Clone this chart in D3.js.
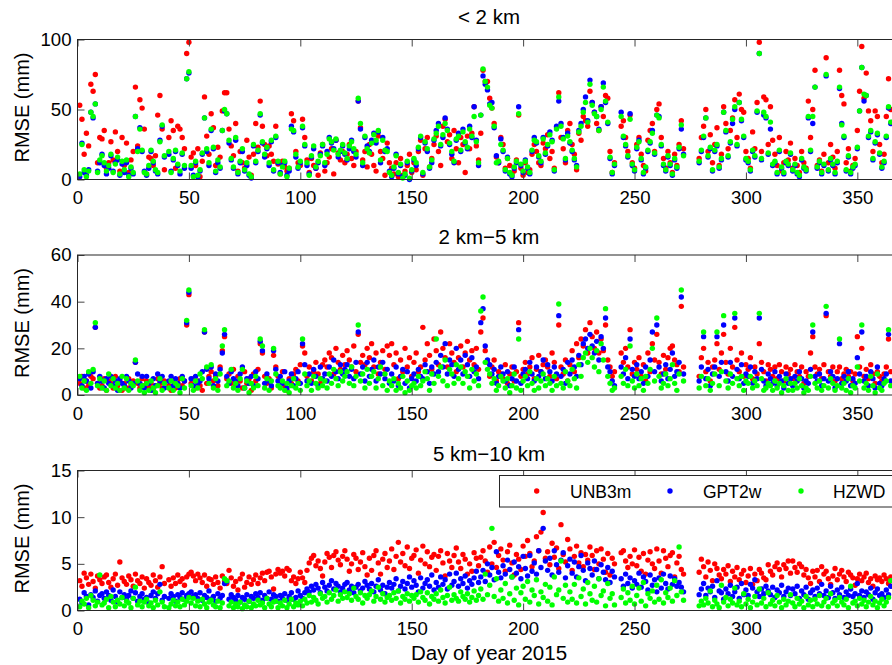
<!DOCTYPE html>
<html>
<head>
<meta charset="utf-8">
<script src="https://cdn.jsdelivr.net/npm/d3@7"></script>
<style>
  body { margin: 0; background: #fff; }
  svg { display: block; font-family: "Liberation Sans", Arial, Helvetica, sans-serif; }
</style>
</head>
<body>
<svg id="chart" width="892" height="665"></svg>
<script>
var xTicks = [0, 50, 100, 150, 200, 250, 300, 350];
var seriesNames = ["UNB3m", "GPT2w", "HZWD"];
var seriesColors = ["#ff0000", "#0000ff", "#00ff00"];
var panelTitles = ["< 2 km", "2 km\u22125 km", "5 km\u221210 km"];
var yMax = [100, 60, 15];
var yTicksNear = [0, 50, 100];
var yTicksMid = [0, 20, 40, 60];
var yTicksFar = [0, 5, 10, 15];
var days = d3.range(1, 366); // day of year 2015

// < 2 km
var unb3mNear = [
  53, 43, 18, 33, 24, 68, 63, 75, 12, 30,
  29, 35, 8, 12, 27, 14, 34, 20, 6, 30,
  10, 26, 5, 14, 20, 66, 24, 57, 51, 36,
  4, 16, 15, 10, 17, 46, 60, 36, 7, null,
  30, 42, 35, 8, 38, 36, 30, 22, 90, 98,
  16, 19, 10, 22, 2, 13, 59, 31, 18, 47,
  37, 10, 23, 16, 49, 62, 62, 36, 24, 17,
  40, 6, 20, 12, 8, 28, 16, 3, 18, 40,
  23, 56, 38, 25, 17, 24, 18, 13, 38, 11,
  4, 13, 9, 6, 8, 47, 42, 20, 12, 10,
  43, 30, 14, 5, 15, 10, 8, 3, 19, 25,
  6, 12, 16, 22, 4, 28, 19, 14, 20, 12,
  18, 25, 15, 10, 20, 56, 37, 14, 20, 9,
  25, 18, 10, 6, 31, 20, 15, 3, 26, 12,
  8, 4, 12, 2, 15, 3, 6, 10, 18, 5,
  12, 7, 20, 28, 3, 22, 30, 9, 15, 25,
  31, 20, 10, 38, 43, 27, 32, 15, 35, 22,
  12, 30, 25, 5, 31, 22, 33, 52, 24, 14,
  33, 78, 70, 70, 58, 51, 40, 16, 12, 30,
  25, 8, 15, 10, 4, 6, 14, 46, 8, 3,
  12, 5, 7, 18, 25, 20, 12, 10, 26, 22,
  32, 15, 20, 8, 37, 62, 30, 22, 12, 35,
  40, 25, 18, 7, 33, 28, 45, 42, 38, 63,
  55, 48, 40, 35, 52, 45, 60, 58, 20, 5,
  12, null, null, 38, 42, 30, 20, 46, 12, 8,
  25, 30, 18, 10, 6, 28, 35, 40, 20, 50,
  54, 30, 15, 8, 20, 12, 5, 18, 10, 25,
  42, 22, null, null, null, null, null, null, 15, 30,
  38, 50, 20, 32, 12, 25, 37, 10, 18, 52,
  40, 22, 35, 44, 57, 30, 61, 50, 48, 20,
  15, 8, 34, 22, 55, 98, 20, 59, 57, 25,
  52, 28, 18, 10, 30, 6, 12, 20, 14, 26,
  8, 15, 10, 5, 20, 12, 8, 56, 30, 50,
  78, 10, 14, 6, 18, 87, 12, 25, 16, 8,
  20, 78, 60, 54, 12, 22, 6, 10, 15, 35,
  63, 95, 58, 76, 49, 42, 20, 49, 45, 25,
  12, 18, 45, 72, 50
];
var gpt2wNear = [
  2, 26, 5, 3, 7, 48, 44, 54, 6, 12,
  18, 10, 4, 8, 17, 6, 12, 14, 3, 11,
  5, 12, 3, 8, 4, 45, 22, 37, 20, 6,
  3, 8, 20, 12, 6, 4, 28, 38, 16, null,
  18, 6, 14, 20, 10, 4, 18, 8, 72, 76,
  8, 3, 12, 2, 6, 18, 44, 20, 10, 35,
  22, 5, 12, 8, 35, 49, 47, 26, 14, 8,
  28, 4, 12, 20, 6, 10, 3, 1, 24, 12,
  20, 46, 26, 16, 22, 10, 27, 6, 30, 12,
  5, 10, 12, 3, 6, 38, 34, 16, 8, 12,
  37, 24, 10, 4, 16, 22, 8, 12, 18, 24,
  10, 20, 30, 26, 22, 28, 16, 20, 24, 18,
  14, 22, 28, 20, 16, 56, 36, 10, 30, 24,
  20, 28, 33, 26, 34, 12, 30, 20, 22, 6,
  2, 8, 18, 4, 10, 2, 3, 12, 0, 6,
  14, 10, 22, 30, 4, 26, 20, 8, 12, 28,
  35, 40, 24, 30, 44, 36, 25, 18, 12, 28,
  33, 20, 36, 26, 22, 38, 30, 52, 28, 10,
  46, 74, 68, 64, 54, 55, 37, 17, 12, 29,
  20, 6, 16, 4, 2, 8, 12, 52, 10, 5,
  14, 8, 4, 20, 30, 26, 16, 12, 30, 18,
  24, 34, 28, 6, 38, 56, 40, 30, 14, 33,
  26, 20, 14, 10, 35, 40, 50, 59, 42, 71,
  55, 48, 45, 36, 52, 69, 55, 40, 15, 4,
  10, null, null, 48, 30, 24, 16, 47, 10, 6,
  22, 28, 14, 4, 8, 20, 26, 35, 18, 46,
  45, 24, 10, 6, 16, 10, 3, 14, 8, 22,
  36, 18, null, null, null, null, null, null, 12, 20,
  30, 44, 16, 22, 6, 20, 24, 8, 14, 48,
  34, 16, 26, 40, 50, 24, 55, 42, 30, 14,
  12, 6, 20, 16, 48, 90, 14, 46, 44, 18,
  36, 10, 12, 4, 20, 8, 4, 12, 10, 18,
  6, 10, 4, 2, 14, 8, 6, 44, 20, 40,
  66, 8, 12, 4, 10, 74, 6, 14, 10, 4,
  12, 65, 40, 30, 6, 16, 4, 8, 10, 22,
  49, 80, 56, 60, 30, 34, 14, 26, 32, 18,
  8, 12, 30, 51, 40
];
var hzwdNear = [
  4, 25, 7, 2, 6, 48, 45, 54, 5, 14,
  17, 12, 6, 10, 18, 5, 11, 16, 4, 13,
  7, 14, 2, 9, 5, 45, 20, 36, 21, 5,
  4, 10, 21, 13, 7, 5, 27, 39, 17, null,
  20, 5, 15, 21, 11, 6, 19, 10, 72, 77,
  10, 2, 13, 3, 7, 19, 44, 22, 12, 36,
  23, 6, 14, 9, 35, 50, 47, 28, 15, 9,
  30, 5, 13, 22, 7, 12, 4, 2, 25, 13,
  21, 47, 27, 18, 23, 12, 28, 7, 31, 13,
  4, 9, 13, 2, 8, 36, 35, 18, 9, 13,
  38, 25, 12, 3, 17, 24, 9, 13, 17, 25,
  12, 18, 29, 27, 21, 29, 18, 21, 25, 19,
  15, 24, 27, 22, 18, 58, 40, 12, 31, 22,
  19, 26, 32, 28, 35, 14, 28, 21, 20, 5,
  3, 9, 17, 5, 11, 1, 4, 13, 1, 7,
  15, 12, 23, 31, 5, 27, 22, 9, 14, 29,
  33, 38, 25, 32, 40, 35, 26, 20, 13, 29,
  31, 21, 34, 27, 23, 36, 31, 45, 27, 12,
  46, 79, 70, 66, 53, 51, 38, 12, 13, 25,
  21, 7, 15, 5, 3, 9, 13, 47, 11, 6,
  13, 9, 5, 21, 28, 27, 17, 13, 29, 19,
  25, 32, 27, 7, 36, 59, 38, 29, 15, 31,
  27, 21, 15, 9, 34, 38, 48, 55, 41, 68,
  53, 47, 45, 35, 50, 66, 56, 41, 16, 5,
  11, null, null, 45, 31, 25, 17, 43, 11, 7,
  23, 27, 15, 5, 9, 21, 27, 33, 19, 46,
  44, 25, 11, 7, 17, 11, 4, 15, 9, 23,
  39, 17, null, null, null, null, null, null, 13, 21,
  31, 44, 17, 23, 7, 21, 25, 9, 15, 48,
  35, 17, 27, 43, 52, 25, 55, 43, 31, 15,
  13, 7, 21, 17, 49, 90, 15, 48, 45, 19,
  41, 11, 13, 5, 21, 9, 5, 13, 11, 19,
  7, 11, 5, 3, 15, 9, 7, 45, 21, 45,
  66, 9, 13, 5, 11, 75, 7, 15, 11, 5,
  13, 66, 39, 31, 7, 17, 5, 9, 11, 23,
  49, 80, 61, 60, 31, 35, 15, 27, 33, 19,
  9, 13, 31, 52, 41
];

// 2 km - 5 km
var unb3mMid = [
  5, 8, 3, 6, 4, 8, 7, 29, 5, 3,
  4, 7, 2, 6, 5, 3, 8, 4, 6, 2,
  5, 3, 7, 4, 6, 14, 5, 3, 7, 4,
  6, 3, 5, 2, 4, 7, 5, 3, 6, null,
  4, 2, 6, 3, 5, 7, 4, 6, 30, 43,
  5, 7, 3, 6, 4, 2, 27, 5, 8, 10,
  6, 8, 4, 12, 19, 25, 7, 9, 5, 11,
  4, 8, 6, 3, 10, 5, 7, 2, 9, 6,
  11, 22, 18, 8, 5, 7, 3, 17, 12, 8,
  6, 10, 4, 2, 7, 5, 9, 11, 6, 13,
  21, 18, 8, 12, 6, 10, 14, 9, 5, 13,
  15, 12, 18, 16, 9, 20, 14, 11, 17, 13,
  19, 15, 12, 21, 10, 26, 14, 17, 13, 20,
  16, 22, 12, 18, 9, 14, 19, 11, 21, 17,
  22, 13, 18, 7, 15, 10, 20, 12, 16, 8,
  14, 18, 10, 12, 29, 15, 22, 17, 11, 24,
  19, 13, 27, 20, 16, 12, 22, 18, 14, 10,
  16, 21, 12, 18, 23, 15, 19, 13, 20, 11,
  27, 33, 19, 14, 8, 12, 15, 6, 10, 9,
  7, 13, 5, 9, 12, 6, 10, 31, 8, 11,
  14, 9, 12, 16, 7, 11, 17, 10, 13, 15,
  12, 8, 18, 14, 7, 30, 12, 9, 15, 6,
  13, 19, 10, 22, 16, 24, 21, 28, 18, 31,
  25, 20, 27, 18, 24, 19, 30, 15, 12, 8,
  10, null, null, 18, 14, 20, 12, 28, 9, 14,
  11, 16, 8, 13, 6, 18, 10, 22, 15, 26,
  14, 9, 17, 11, 16, 20, 21, 15, 13, 10,
  38, 12, null, null, null, null, null, null, 8, 16,
  20, 10, 14, 6, 12, 15, 22, 11, 18, 26,
  14, 9, 20, 12, 29, 15, 10, 18, 8, 13,
  11, 16, 7, 12, 9, 22, 14, 10, 6, 13,
  11, 8, 12, 7, 13, 10, 6, 12, 9, 11,
  7, 13, 10, 8, 12, 5, 10, 8, 18, 25,
  12, 9, 11, 7, 13, 34, 10, 8, 12, 6,
  10, 12, 7, 9, 11, 8, 10, 6, 9, 25,
  12, 20, 8, 11, 7, 13, 9, 5, 10, 8,
  6, 9, 12, 24, 10
];
var gpt2wMid = [
  7, 4, 8, 6, 9, 3, 10, 29, 5, 8,
  6, 3, 7, 5, 8, 4, 6, 2, 7, 5,
  4, 8, 6, 3, 5, 14, 9, 5, 8, 3,
  8, 5, 2, 7, 4, 9, 6, 8, 3, null,
  6, 8, 4, 7, 5, 3, 8, 6, 31, 44,
  7, 4, 8, 5, 6, 10, 27, 11, 7, 12,
  4, 9, 6, 11, 18, 26, 8, 5, 10, 7,
  6, 4, 9, 12, 3, 7, 5, 8, 4, 10,
  7, 23, 19, 5, 9, 6, 4, 19, 11, 6,
  8, 5, 10, 3, 6, 9, 4, 7, 10, 5,
  22, 13, 6, 9, 5, 11, 8, 4, 12, 7,
  9, 6, 12, 8, 15, 10, 7, 13, 9, 11,
  13, 8, 11, 7, 14, 27, 9, 12, 6, 14,
  8, 11, 15, 6, 12, 9, 14, 7, 11, 5,
  9, 6, 12, 4, 8, 11, 5, 10, 3, 7,
  9, 6, 11, 8, 7, 13, 10, 5, 12, 9,
  14, 10, 17, 12, 22, 9, 15, 13, 8, 20,
  11, 15, 9, 17, 13, 8, 16, 10, 12, 7,
  31, 37, 21, 15, 13, 9, 11, 5, 8, 12,
  9, 6, 10, 4, 7, 12, 6, 28, 5, 9,
  11, 7, 14, 9, 6, 12, 8, 10, 15, 7,
  13, 10, 6, 12, 9, 34, 8, 11, 5, 14,
  9, 15, 12, 8, 17, 13, 22, 24, 20, 26,
  21, 18, 23, 15, 25, 20, 33, 12, 10, 6,
  4, null, null, 12, 9, 16, 7, 24, 11, 8,
  13, 7, 10, 5, 12, 8, 15, 27, 10, 30,
  12, 6, 9, 13, 7, 11, 18, 8, 10, 14,
  42, 9, null, null, null, null, null, null, 6, 12,
  25, 7, 11, 4, 9, 12, 25, 8, 14, 30,
  10, 6, 14, 8, 33, 11, 7, 13, 5, 9,
  8, 12, 5, 10, 7, 33, 11, 6, 4, 9,
  7, 5, 10, 4, 8, 6, 3, 9, 5, 7,
  4, 8, 6, 10, 7, 3, 6, 5, 11, 27,
  8, 6, 9, 4, 7, 35, 6, 10, 8, 3,
  7, 22, 5, 8, 6, 10, 4, 7, 5, 16,
  9, 27, 6, 8, 4, 10, 7, 3, 12, 5,
  4, 7, 9, 26, 6
];
var hzwdMid = [
  8, 3, 6, 2, 10, 5, 11, 31, 4, 7,
  3, 6, 2, 9, 4, 7, 3, 5, 2, 8,
  3, 7, 2, 5, 4, 15, 6, 2, 4, 1,
  5, 2, 6, 3, 1, 4, 7, 2, 5, null,
  3, 6, 2, 5, 4, 1, 7, 3, 32, 45,
  4, 2, 6, 3, 9, 7, 28, 12, 5, 13,
  3, 7, 2, 9, 21, 28, 4, 6, 11, 3,
  5, 2, 7, 11, 3, 6, 1, 5, 3, 8,
  4, 24, 21, 3, 7, 2, 6, 20, 9, 4,
  3, 6, 2, 5, 1, 4, 7, 3, 5, 2,
  24, 9, 4, 6, 2, 8, 5, 3, 7, 4,
  6, 3, 9, 5, 11, 7, 4, 10, 6, 8,
  10, 5, 12, 4, 8, 30, 6, 9, 3, 11,
  5, 8, 10, 3, 7, 12, 4, 9, 2, 6,
  4, 7, 2, 5, 3, 8, 1, 6, 2, 4,
  5, 3, 8, 4, 6, 10, 7, 2, 9, 5,
  24, 8, 12, 6, 15, 4, 11, 9, 5, 13,
  7, 12, 5, 10, 8, 3, 11, 6, 9, 4,
  36, 42, 14, 11, 9, 5, 7, 2, 4, 8,
  6, 3, 7, 1, 4, 9, 3, 24, 2, 6,
  8, 4, 10, 5, 2, 7, 3, 6, 9, 4,
  7, 5, 2, 8, 4, 39, 5, 3, 10, 6,
  4, 11, 7, 3, 13, 8, 16, 18, 14, 20,
  16, 12, 19, 10, 22, 15, 37, 8, 5, 2,
  3, null, null, 8, 5, 11, 4, 21, 6, 3,
  9, 4, 7, 2, 8, 5, 11, 20, 6, 33,
  8, 3, 5, 9, 4, 7, 13, 5, 2, 9,
  45, 6, null, null, null, null, null, null, 3, 8,
  27, 4, 7, 2, 5, 9, 27, 4, 10, 34,
  6, 3, 9, 5, 35, 7, 4, 8, 2, 6,
  5, 8, 3, 6, 4, 35, 7, 2, 3, 5,
  4, 2, 6, 3, 5, 1, 4, 7, 2, 5,
  2, 5, 3, 7, 4, 1, 3, 2, 8, 30,
  5, 3, 6, 2, 4, 38, 3, 7, 5, 2,
  4, 24, 3, 5, 2, 7, 1, 4, 3, 12,
  6, 30, 3, 5, 2, 8, 4, 1, 9, 3,
  2, 5, 6, 28, 4
];

// 5 km - 10 km
var unb3mFar = [
  3.2, 2.6, 4.0, 3.5, 2.8, 3.9, 3.1, 2.4, 3.7, 3.3,
  2.9, 3.6, 3.8, 3.0, 2.5, 3.4, 3.9, 2.7, 5.2, 3.5,
  3.1, 2.8, 3.7, 3.3, 2.6, 3.9, 3.2, 2.9, 3.6, 2.4,
  3.4, 3.0, 2.7, 3.8, 3.2, 2.5, 3.6, 4.7, 2.9, null,
  3.3, 2.6, 3.5, 2.9, 3.8, 3.1, 3.4, 2.7, 3.6, 3.9,
  4.1, 3.7, 3.2, 3.9, 3.5, 3.0, 3.8, 2.6, 3.4, 3.3,
  2.8, 3.6, 3.0, 2.4, 3.7, 3.2, 2.9, 4.3, 3.5, 2.6,
  3.1, 2.2, 3.4, 3.9, 2.5, 3.0, 3.6, 2.8, 3.3, 3.8,
  2.9, 3.5, 4.0, 3.2, 4.1, 4.2, 3.6, 2.3, 3.9, 4.4,
  4.0, 4.2, 3.7, 4.5, 4.3, 3.2, 3.6, 2.9, 3.4, 4.1,
  3.5, 3.0, 4.3, 5.1, 5.6, 5.9, 4.8, 5.3, 4.5, 3.7,
  5.2, 6.1, 5.7, 4.6, 5.9, 6.3, 5.4, 4.9, 5.8, 6.4,
  5.5, 4.2, 5.0, 6.0, 5.6, 4.4, 5.2, 6.2, 4.7, 3.8,
  5.6, 4.3, 5.9, 6.4, 5.1, 3.9, 5.5, 6.1, 4.6, 5.3,
  6.6, 4.4, 5.8, 7.3, 5.2, 6.1, 4.8, 6.8, 4.5, 5.6,
  5.9, 6.5, 4.0, 5.4, 6.9, 5.0, 6.3, 4.7, 5.7, 6.0,
  4.3, 5.8, 6.4, 5.1, 3.7, 6.1, 5.3, 4.6, 5.9, 6.7,
  5.2, 4.5, 6.0, 5.5, 3.9, 5.0, 4.2, 6.2, 5.6, 4.8,
  5.7, 6.4, 5.3, 4.1, 6.8, 5.0, 7.3, 4.6, 5.9, 6.6,
  5.4, 4.2, 6.3, 7.0, 5.1, 3.8, 6.0, 5.5, 4.4, 6.9,
  5.8, 7.5, 6.1, 4.7, 5.3, 7.9, 6.4, 8.4, 10.5, 5.6,
  6.3, 4.9, 7.2, 5.7, 6.7, 4.5, 9.2, 6.0, 5.2, 7.6,
  6.6, 4.3, 5.8, 6.9, 5.1, 6.2, 4.7, 6.0, 5.4, 6.8,
  5.9, 4.4, 6.4, 5.0, 6.6, 5.5, 4.1, 6.1, 3.8, 5.6,
  5.0, null, null, 6.2, 6.4, 5.3, 4.6, 5.8, 5.0, 6.5,
  4.8, 5.7, 4.2, 6.1, 3.9, 5.4, 6.3, 5.0, 4.5, 6.6,
  5.3, 4.0, 6.4, 5.6, 4.7, 5.9, 6.2, 3.6, 5.1, 5.8,
  4.4, 3.9, null, null, null, null, null, null, 4.1, 5.5,
  4.7, 3.6, 5.2, 4.3, 3.2, 5.0, 4.5, 3.8, 3.4, 4.4,
  3.9, 4.8, 3.1, 4.2, 3.6, 4.6, 3.3, 3.9, 4.3, 3.0,
  3.7, 4.5, 2.8, 3.9, 3.2, 4.4, 4.0, 3.5, 3.3, 4.9,
  4.2, 3.8, 4.7, 5.1, 4.4, 3.6, 4.9, 4.5, 5.3, 4.0,
  5.3, 4.6, 4.1, 5.0, 4.7, 3.8, 4.4, 3.5, 2.9, 4.2,
  3.6, 4.3, 3.1, 4.7, 3.9, 4.2, 3.4, 2.8, 3.7, 4.5,
  3.3, 3.9, 4.3, 3.6, 3.1, 4.1, 3.8, 3.5, 2.7, 3.4,
  3.9, 3.2, 3.6, 4.0, 3.0, 3.4, 2.6, 3.7, 3.3, 3.5,
  3.1, 3.8, 3.4, 2.9, 3.6
];
var gpt2wFar = [
  1.2, 0.8, 1.9, 1.5, 0.6, 1.7, 1.4, 2.1, 1.0, 1.6,
  1.8, 1.3, 2.0, 1.6, 1.1, 2.2, 1.5, 0.9, 2.0, 1.4,
  1.7, 1.2, 1.6, 2.1, 1.3, 1.9, 1.0, 1.5, 1.8, 1.2,
  1.4, 0.8, 1.6, 2.0, 1.3, 1.8, 2.8, 1.1, 1.5, null,
  1.3, 1.8, 1.5, 1.0, 1.7, 1.4, 1.9, 1.2, 1.6, 1.8,
  2.0, 1.5, 1.7, 1.3, 1.9, 1.1, 1.6, 1.4, 2.1, 1.2,
  1.5, 1.0, 1.8, 1.3, 1.6, 2.9, 3.1, 1.2, 1.7, 1.4,
  1.1, 1.6, 0.9, 1.4, 1.2, 1.7, 1.0, 1.5, 1.3, 1.8,
  1.4, 1.9, 1.1, 1.6, 1.3, 2.0, 1.2, 1.7, 1.5, 1.0,
  1.6, 1.3, 1.8, 1.1, 1.5, 1.9, 1.2, 1.4, 2.1, 1.6,
  1.3, 1.9, 2.3, 2.0, 2.6, 2.2, 2.8, 2.4, 1.9, 3.0,
  2.5, 2.1, 2.7, 3.2, 2.3, 2.9, 2.6, 2.0, 2.4, 2.8,
  3.0, 2.2, 2.6, 1.9, 2.5, 2.8, 2.1, 2.4, 3.1, 2.7,
  2.3, 2.9, 2.0, 2.6, 3.3, 2.2, 2.7, 1.8, 2.5, 3.0,
  2.4, 2.8, 3.4, 2.1, 2.6, 3.1, 2.3, 2.9, 3.6, 2.5,
  3.2, 2.7, 2.0, 3.5, 2.4, 2.9, 3.3, 2.6, 3.8, 2.2,
  3.0, 2.5, 3.6, 2.8, 3.3, 2.3, 3.9, 2.7, 3.1, 4.0,
  2.6, 3.4, 2.9, 3.7, 2.4, 3.2, 2.8, 3.5, 4.2, 3.0,
  3.6, 4.3, 3.1, 5.0, 3.8, 4.6, 3.3, 6.3, 4.1, 3.5,
  4.8, 3.9, 5.4, 4.4, 3.6, 5.2, 4.0, 4.7, 3.4, 5.8,
  4.5, 3.7, 5.9, 4.2, 5.1, 3.9, 6.4, 4.6, 8.8, 5.3,
  4.3, 5.6, 3.8, 6.4, 4.9, 4.1, 5.4, 6.2, 3.5, 4.8,
  5.5, 4.0, 5.2, 3.6, 4.7, 5.9, 4.3, 3.2, 5.1, 4.5,
  3.8, 5.3, 4.4, 3.4, 4.9, 4.1, 3.3, 4.6, 3.0, 4.2,
  3.6, null, null, 3.4, 2.6, 3.9, 2.9, 3.5, 2.4, 3.2,
  2.8, 4.0, 2.5, 3.6, 3.1, 2.2, 3.8, 2.7, 3.3, 2.0,
  3.5, 2.4, 3.9, 2.9, 2.3, 3.7, 2.8, 3.4, 2.6, 3.0,
  2.5, 2.0, null, null, null, null, null, null, 1.7, 2.3,
  2.9, 1.6, 2.4, 2.0, 2.6, 1.4, 3.2, 2.1, 1.9, 1.2,
  2.3, 1.8, 2.7, 1.5, 2.0, 2.5, 1.3, 2.9, 1.7, 2.2,
  1.6, 2.8, 2.4, 3.3, 2.0, 1.5, 2.3, 1.8, 2.6, 2.1,
  1.7, 2.5, 1.4, 2.2, 1.9, 2.7, 1.5, 2.0, 2.4, 1.6,
  2.3, 1.8, 2.6, 1.3, 2.1, 1.7, 2.5, 1.2, 1.9, 2.2,
  1.5, 2.4, 1.8, 2.8, 1.6, 2.1, 1.4, 2.6, 1.9, 1.3,
  2.2, 1.7, 2.5, 1.4, 2.0, 1.6, 2.3, 1.5, 1.8, 2.9,
  1.6, 2.1, 1.4, 2.0, 1.7, 2.4, 1.2, 1.9, 2.3, 1.6,
  1.8, 1.4, 2.2, 1.7, 2.6
];
var hzwdFar = [
  0.4, 1.0, 0.7, 1.3, 0.3, 1.6, 1.1, 0.5, 0.9, 3.8,
  0.6, 0.8, 1.2, 0.3, 1.5, 0.9, 0.4, 1.1, 0.7, 1.4,
  0.5, 1.0, 0.8, 0.3, 1.3, 2.5, 0.6, 1.0, 0.4, 0.9,
  1.2, 0.5, 0.8, 0.3, 1.1, 0.6, 2.0, 0.9, 0.4, null,
  0.3, 0.7, 1.1, 0.5, 0.9, 0.4, 1.2, 0.6, 1.0, 1.4,
  0.8, 1.3, 0.5, 1.0, 0.4, 1.2, 0.7, 0.3, 0.9, 1.1,
  0.6, 0.4, 1.0, 0.3, 0.8, 3.4, 3.2, 0.5, 0.9, 0.3,
  0.7, 0.4, 0.9, 0.2, 0.6, 0.4, 1.0, 0.3, 0.7, 0.5,
  1.1, 0.6, 0.8, 0.3, 1.3, 0.7, 0.4, 0.9, 1.0, 0.3,
  0.8, 0.5, 1.1, 0.3, 0.7, 1.2, 0.4, 0.8, 0.6, 1.0,
  0.5, 1.2, 0.8, 1.6, 0.9, 1.4, 1.1, 0.7, 1.8, 1.3,
  1.5, 0.9, 1.9, 1.2, 1.6, 2.2, 1.0, 1.7, 1.3, 2.0,
  1.4, 1.8, 1.1, 2.4, 1.5, 1.2, 1.9, 0.8, 1.6, 1.3,
  1.7, 2.1, 1.0, 1.5, 2.5, 1.2, 1.8, 0.9, 1.4, 1.6,
  1.1, 1.9, 1.3, 2.1, 0.8, 1.5, 1.2, 1.8, 1.0, 1.6,
  1.3, 1.7, 0.9, 2.0, 1.4, 1.1, 1.9, 0.7, 1.5, 1.2,
  1.8, 1.0, 2.2, 1.4, 0.8, 1.6, 2.5, 1.1, 1.7, 1.3,
  1.0, 2.0, 1.5, 1.2, 1.8, 0.9, 1.4, 2.1, 1.1, 1.6,
  2.3, 1.2, 3.9, 1.7, 2.7, 8.8, 1.5, 3.4, 1.0, 2.2,
  1.3, 2.9, 0.8, 1.8, 3.6, 1.1, 2.4, 0.6, 1.9, 2.6,
  1.2, 3.1, 0.9, 2.2, 1.6, 3.3, 0.7, 2.0, 1.4, 2.8,
  1.0, 2.5, 0.6, 3.6, 1.7, 2.2, 5.3, 1.3, 2.7, 0.9,
  2.0, 1.2, 2.8, 0.8, 3.5, 1.5, 2.3, 0.7, 3.0, 1.8,
  1.1, 2.6, 0.9, 3.4, 1.6, 2.1, 0.5, 2.9, 1.3, 1.8,
  0.6, null, null, 1.4, 2.3, 0.8, 1.9, 1.1, 2.6, 0.7,
  1.6, 2.4, 1.0, 3.0, 0.5, 1.8, 1.3, 2.1, 0.9, 2.7,
  1.2, 3.3, 0.8, 1.9, 1.4, 2.4, 1.0, 3.2, 1.6, 6.8,
  2.0, 1.1, null, null, null, null, null, null, 0.5, 1.0,
  0.6, 1.3, 0.8, 2.1, 0.4, 1.1, 0.7, 0.3, 2.7, 0.9,
  1.4, 0.5, 1.2, 0.8, 2.4, 0.6, 1.0, 0.4, 1.8, 0.7,
  1.2, 0.3, 0.9, 1.5, 0.6, 2.3, 0.8, 1.3, 0.4, 1.9,
  0.7, 1.1, 0.5, 1.6, 0.9, 0.3, 1.2, 0.6, 1.0, 1.7,
  0.8, 0.4, 1.3, 0.7, 1.0, 0.3, 1.5, 0.6, 1.1, 0.4,
  1.2, 0.7, 1.6, 0.5, 0.9, 1.3, 0.4, 1.8, 0.8, 1.1,
  0.5, 1.4, 0.9, 0.6, 1.2, 0.3, 2.6, 0.8, 1.0, 0.5,
  1.3, 0.7, 1.1, 0.4, 0.9, 1.5, 0.6, 1.0, 0.3, 0.8,
  1.2, 0.5, 0.9, 1.4, 3.2
];

var panelSeries = [
  [unb3mNear, gpt2wNear, hzwdNear],
  [unb3mMid, gpt2wMid, hzwdMid],
  [unb3mFar, gpt2wFar, hzwdFar]
];
var panelYTicks = [yTicksNear, yTicksMid, yTicksFar];

panelSeries.forEach(function (list) {
  list.forEach(function (arr) {
    if (arr.length !== days.length) console.warn("length " + arr.length);
  });
});

var svg = d3.select("#chart");
var left = 77.5;
var plotW = 824.4;
var plotH = 140;
var panelTop = [39.5, 255, 470.5];
var titleY = [24, 243.5, 461];
var dotR = 2.7;

var x = d3.scaleLinear().domain([0, 370]).range([left, left + plotW]);

function drawPanel(p) {
  var top = panelTop[p];
  var y = d3.scaleLinear().domain([0, yMax[p]]).range([top + plotH, top]);
  var g = svg.append("g").attr("class", "panel");

  // dots, red first so green ends on top
  panelSeries[p].forEach(function (values, s) {
    var pts = days.map(function (d, i) {
      return { day: d, value: values[i] };
    }).filter(function (d) {
      return d.value !== null && d.value !== undefined;
    });
    g.append("g").selectAll("circle")
      .data(pts)
      .enter()
      .append("circle")
      .attr("cx", function (d) { return x(d.day); })
      .attr("cy", function (d) { return y(d.value); })
      .attr("r", dotR)
      .attr("fill", seriesColors[s]);
  });

  // axes, ticks pointing in like matlab
  var bottomAxis = g.append("g")
    .attr("transform", "translate(0," + (top + plotH) + ")")
    .call(d3.axisBottom(x).tickValues(xTicks).tickSizeInner(-7).tickSizeOuter(0).tickPadding(11.5));
  var topAxis = g.append("g")
    .attr("transform", "translate(0," + top + ")")
    .call(d3.axisTop(x).tickValues(xTicks).tickSizeInner(-7).tickSizeOuter(0).tickFormat(""));
  var leftAxis = g.append("g")
    .attr("transform", "translate(" + left + ",0)")
    .call(d3.axisLeft(y).tickValues(panelYTicks[p]).tickSizeInner(-7).tickSizeOuter(0).tickPadding(6));

  [bottomAxis, topAxis, leftAxis].forEach(function (a) {
    a.select(".domain").remove();
    a.selectAll("line").attr("stroke", "#444");
    a.selectAll("text")
      .attr("fill", "#000")
      .style("font-size", "18.6px")
      .style("font-family", '"Liberation Sans", Arial, sans-serif');
  });

  g.append("rect")
    .attr("x", left)
    .attr("y", top)
    .attr("width", plotW)
    .attr("height", plotH)
    .attr("fill", "none")
    .attr("stroke", "#262626")
    .attr("stroke-width", 1);

  g.append("text")
    .attr("x", 489)
    .attr("y", titleY[p])
    .attr("text-anchor", "middle")
    .style("font-size", "20.5px")
    .text(panelTitles[p]);

  g.append("text")
    .attr("transform", "translate(28.5," + (top + plotH / 2 - 2) + ") rotate(-90)")
    .attr("text-anchor", "middle")
    .style("font-size", "20px")
    .text("RMSE (mm)");
}

for (var p = 0; p < 3; p++) {
  drawPanel(p);
}

// legend sits inside the bottom panel
var legend = svg.append("g");
legend.append("rect")
  .attr("x", 499.5)
  .attr("y", 475.5)
  .attr("width", 400)
  .attr("height", 31.5)
  .attr("fill", "#fff")
  .attr("stroke", "#262626");

var legendDotX = [536.7, 670, 801];
var legendTextX = [570, 703, 833];
seriesNames.forEach(function (name, s) {
  legend.append("circle")
    .attr("cx", legendDotX[s])
    .attr("cy", 491)
    .attr("r", dotR)
    .attr("fill", seriesColors[s]);
  legend.append("text")
    .attr("x", legendTextX[s])
    .attr("y", 498)
    .style("font-size", "17.5px")
    .text(name);
});

svg.append("text")
  .attr("x", 489)
  .attr("y", 660)
  .attr("text-anchor", "middle")
  .style("font-size", "20.5px")
  .text("Day of year 2015");
</script>
</body>
</html>
